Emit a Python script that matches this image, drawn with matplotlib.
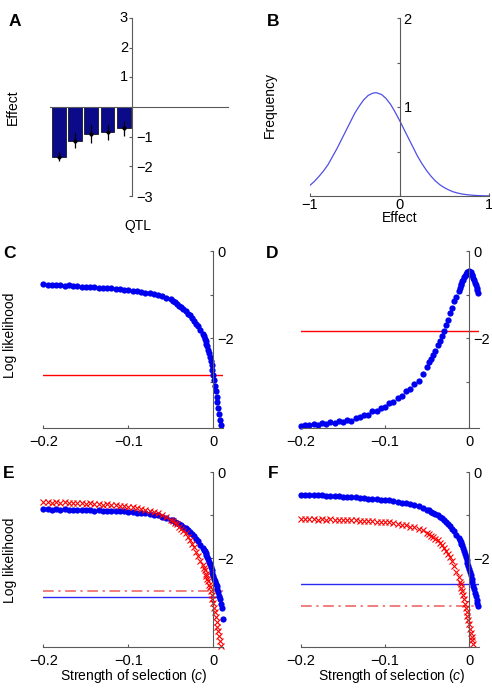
import numpy as np
import matplotlib
matplotlib.use('Agg')
import matplotlib.pyplot as plt

plt.rcParams['font.family'] = ['Liberation Sans', 'DejaVu Sans']
plt.rcParams['mathtext.fontset'] = 'custom'
plt.rcParams['mathtext.it'] = 'Liberation Sans:italic'
plt.rcParams['mathtext.rm'] = 'Liberation Sans'

W, H = 492, 688

# panel A: QTL effects
qtl = [1, 2, 3, 4, 5]
effect = [-1.67, -1.13, -0.92, -0.85, -0.72]
effect_err = [0.15, 0.24, 0.30, 0.25, 0.26]

# panel B: distribution of effects
eff_grid = [-1.0, -0.95, -0.9, -0.85, -0.8, -0.75, -0.7, -0.65, -0.6, -0.55, -0.5,
            -0.45, -0.4, -0.35, -0.3, -0.27, -0.25, -0.2, -0.15, -0.1, -0.05,
            0.0, 0.05, 0.1, 0.15, 0.2, 0.25, 0.3, 0.35, 0.4, 0.45, 0.5,
            0.55, 0.6, 0.65, 0.7, 0.75, 0.8, 0.85, 0.9, 0.95, 1.0]
freq = [0.12, 0.165, 0.22, 0.28, 0.35, 0.44, 0.53, 0.63, 0.73, 0.83, 0.93,
        1.01, 1.08, 1.13, 1.155, 1.16, 1.158, 1.14, 1.095, 1.03, 0.945,
        0.85, 0.75, 0.65, 0.55, 0.45, 0.365, 0.29, 0.225, 0.17, 0.127, 0.094,
        0.068, 0.047, 0.033, 0.022, 0.015, 0.01, 0.006, 0.004, 0.002, 0.001]

# panels C-F: log likelihood vs strength of selection
sel = [-0.200, -0.195, -0.190, -0.185, -0.180, -0.175, -0.170, -0.165, -0.160, -0.155,
       -0.150, -0.145, -0.140, -0.135, -0.130, -0.125, -0.120, -0.115, -0.110, -0.105,
       -0.100, -0.095, -0.090, -0.085, -0.080, -0.075, -0.070, -0.065, -0.060, -0.055,
       -0.050, -0.0475, -0.045, -0.0425, -0.040, -0.0375, -0.035, -0.0325, -0.030, -0.0275,
       -0.025, -0.0225, -0.020, -0.0175, -0.015, -0.0125, -0.011, -0.010, -0.009, -0.008,
       -0.007, -0.006, -0.005, -0.004, -0.003, -0.002, -0.001, 0.000, 0.001, 0.002,
       0.003, 0.004, 0.005, 0.006, 0.007, 0.008, 0.009, 0.010, 0.011]
nan = float('nan')

ll_c = [-0.75, -0.77, -0.765, -0.78, -0.77, -0.785, -0.78, -0.795, -0.795, -0.81,
        -0.81, -0.825, -0.82, -0.835, -0.84, -0.85, -0.85, -0.865, -0.87, -0.885,
        -0.89, -0.90, -0.92, -0.925, -0.95, -0.96, -0.985, -1.00, -1.035, -1.06,
        -1.10, -1.13, -1.17, -1.20, -1.25, -1.28, -1.33, -1.37, -1.43, -1.47,
        -1.54, -1.59, -1.66, -1.72, -1.81, -1.90, -1.95, -2.02, -2.06, -2.13,
        -2.18, -2.26, -2.33, -2.43, -2.51, -2.62, -2.72, -2.85, -2.96, -3.09,
        -3.20, -3.34, -3.46, -3.61, -3.73, -3.87, -3.98, nan, nan]
ll_d = [-4.02, -3.98, -4.00, -3.96, -3.99, -3.94, -3.97, -3.93, -3.95, -3.90,
        -3.92, -3.87, -3.89, -3.82, -3.81, -3.75, -3.75, -3.68, -3.67, -3.59,
        -3.57, -3.49, -3.46, -3.37, -3.33, -3.22, -3.17, -3.04, -2.98, -2.81,
        -2.65, -2.54, -2.48, -2.37, -2.29, -2.16, -2.07, -1.94, -1.83, -1.68,
        -1.57, -1.42, -1.30, -1.15, -1.04, -0.90, -0.85, -0.77, -0.74, -0.67,
        -0.65, -0.59, -0.57, -0.52, -0.51, -0.47, -0.47, -0.44, -0.47, -0.47,
        -0.53, -0.55, -0.62, -0.65, -0.72, -0.76, -0.84, -0.89, -0.95]
ll_e_blue = [-0.86, -0.855, -0.87, -0.86, -0.875, -0.865, -0.88, -0.87, -0.885, -0.875,
             -0.89, -0.88, -0.895, -0.885, -0.90, -0.895, -0.905, -0.90, -0.915, -0.91,
             -0.925, -0.92, -0.94, -0.94, -0.96, -0.965, -0.995, -1.005, -1.045, -1.065,
             -1.115, -1.125, -1.165, -1.175, -1.215, -1.235, -1.285, -1.305, -1.355, -1.385,
             -1.445, -1.485, -1.555, -1.605, -1.685, -1.755, -1.815, -1.835, -1.885, -1.915,
             -1.975, -2.015, -2.085, -2.135, -2.205, -2.265, -2.345, -2.405, -2.475, -2.525,
             -2.595, -2.645, -2.715, -2.785, -2.875, -2.955, -3.055, -3.15, -3.40]
ll_e_red = [-0.70, -0.69, -0.71, -0.70, -0.715, -0.705, -0.72, -0.715, -0.725, -0.72,
            -0.735, -0.725, -0.74, -0.735, -0.755, -0.75, -0.77, -0.77, -0.79, -0.79,
            -0.81, -0.815, -0.84, -0.85, -0.88, -0.895, -0.935, -0.96, -1.005, -1.045,
            -1.115, -1.135, -1.185, -1.215, -1.275, -1.315, -1.375, -1.425, -1.515, -1.575,
            -1.665, -1.735, -1.845, -1.945, -2.075, -2.165, -2.235, -2.285, -2.355, -2.405,
            -2.475, -2.535, -2.615, -2.675, -2.765, -2.845, -2.955, -3.045, -3.155, -3.255,
            -3.375, -3.475, -3.595, -3.695, -3.815, -3.915, -4.03, nan, nan]
ll_f_blue = [-0.53, -0.525, -0.54, -0.535, -0.545, -0.545, -0.555, -0.555, -0.565, -0.565,
             -0.575, -0.575, -0.59, -0.59, -0.60, -0.605, -0.62, -0.62, -0.635, -0.64,
             -0.655, -0.66, -0.675, -0.685, -0.71, -0.725, -0.75, -0.77, -0.80, -0.825,
             -0.87, -0.885, -0.92, -0.945, -0.98, -1.005, -1.04, -1.075, -1.12, -1.155,
             -1.21, -1.255, -1.32, -1.375, -1.45, -1.525, -1.58, -1.615, -1.66, -1.705,
             -1.77, -1.825, -1.90, -1.965, -2.04, -2.105, -2.18, -2.245, -2.32, -2.395,
             -2.48, -2.555, -2.64, -2.715, -2.80, -2.875, -2.96, -3.035, -3.12]
ll_f_red = [-1.09, -1.08, -1.10, -1.09, -1.105, -1.095, -1.11, -1.10, -1.115, -1.105,
            -1.12, -1.115, -1.125, -1.12, -1.135, -1.13, -1.145, -1.14, -1.155, -1.155,
            -1.17, -1.17, -1.19, -1.195, -1.22, -1.23, -1.265, -1.285, -1.325, -1.355,
            -1.415, -1.435, -1.475, -1.505, -1.555, -1.585, -1.645, -1.695, -1.765, -1.825,
            -1.905, -1.975, -2.075, -2.175, -2.325, -2.445, -2.545, -2.605, -2.695, -2.765,
            -2.865, -2.945, -3.055, -3.145, -3.255, -3.335, -3.445, -3.535, -3.645, -3.725,
            -3.825, -3.905, -4.00, nan, nan, nan, nan, nan, nan]

# significance thresholds
thr_c = -2.83
thr_d = -1.83
thr_e_blue, thr_e_red = -2.89, -2.77
thr_f_blue, thr_f_red = -2.60, -3.11

SPINE = '#5a5a5a'
BLUE = '#0000F0'
RED = '#FF0000'

fig = plt.figure(figsize=(W / 100, H / 100), dpi=100)


def box(x0, y0, x1, y1):
    return fig.add_axes([x0 / W, 1 - y1 / H, (x1 - x0) / W, (y1 - y0) / H])


def label(x, y, s, **kw):
    fig.text(x / W, 1 - y / H, s, ha='center', va='center', **kw)


def style(ax, xpos):
    for s in ['top', 'left']:
        ax.spines[s].set_visible(False)
    ax.spines['right'].set_position(('data', xpos))
    for s in ['right', 'bottom']:
        ax.spines[s].set_color(SPINE)
        ax.spines[s].set_linewidth(0.8)
    ax.yaxis.set_ticks_position('right')
    ax.xaxis.set_ticks_position('bottom')
    ax.tick_params(direction='in', length=2.5, width=0.8, color=SPINE,
                   labelsize=10.5, pad=3)
    ax.patch.set_alpha(0)


# A
axA = box(50, 18, 228, 196)
axA.bar(qtl, effect, width=0.85, color='#0B0B8A', edgecolor='k', linewidth=0.5)
axA.errorbar(qtl, effect, yerr=effect_err, fmt='.', color='k', ms=4,
             elinewidth=0.9, capsize=0)
axA.set_xlim(0.47, 11.39)
axA.set_ylim(-3, 3)
style(axA, 5.5)
axA.spines['bottom'].set_position(('data', 0))
axA.set_xticks([])
axA.set_yticks([-3, -2, -1, 0, 1, 2, 3])
axA.set_yticklabels(['\u22123', '\u22122', '\u22121', '', '', '', ''])
# positive tick labels sit on the left of the axis line
for v in [1, 2, 3]:
    axA.text(5.25, v, str(v), ha='right', va='center', fontsize=10.5)

# B
axB = box(310, 18, 489, 196)
axB.plot(eff_grid, freq, color='#4F4FE6', lw=0.9)
axB.set_xlim(-1, 1)
axB.set_ylim(0, 2)
style(axB, 0)
axB.tick_params(axis='x', pad=1.5)
axB.set_yticks([0.5, 1, 1.5, 2])
axB.set_yticklabels(['', '1', '', '2'])
axB.set_xticks([-1, 0, 1])
axB.set_xticklabels(['\u22121', '0', '1'])


def ll_axes(ax):
    ax.set_xlim(-0.2, 0.0115)
    ax.set_ylim(-4.06, 0)
    style(ax, 0)
    ax.tick_params(axis='x', pad=5)
    ax.set_yticks([-3, -2, -1, 0])
    ax.set_yticklabels(['', '\u22122', '', '0'])
    ax.set_xticks([-0.2, -0.1, 0])
    ax.set_xticklabels(['\u22120.2', '\u22120.1', '0'])


def blue_dots(ax, y):
    ax.plot(sel, y, 'o', color=BLUE, ms=4.5, mew=0, clip_on=False)


def red_x(ax, y):
    ax.plot(sel, y, 'x', color=RED, ms=4.2, mew=0.8, clip_on=False)


axC = box(43.3, 251.5, 223, 428)
axC.axhline(thr_c, color=RED, lw=1.0)
blue_dots(axC, ll_c)
ll_axes(axC)

axD = box(301, 251.5, 478.7, 428)
axD.axhline(thr_d, color=RED, lw=1.0)
blue_dots(axD, ll_d)
ll_axes(axD)

axE = box(43.3, 472, 223, 647)
axE.axhline(thr_e_red, color='#EE5a5a', lw=1.1, linestyle=(0, (7, 3, 1.5, 3)))
axE.axhline(thr_e_blue, color='#2a2aF5', lw=1.0)
blue_dots(axE, ll_e_blue)
red_x(axE, ll_e_red)
ll_axes(axE)

axF = box(301, 472, 478.7, 647)
axF.axhline(thr_f_red, color='#EE5a5a', lw=1.1, linestyle=(0, (7, 3, 1.5, 3)))
axF.axhline(thr_f_blue, color='#2a2aF5', lw=1.0)
blue_dots(axF, ll_f_blue)
red_x(axF, ll_f_red)
ll_axes(axF)

# text
for x, y, s in [(15, 21, 'A'), (273, 21, 'B'), (9, 254, 'C'),
                (272, 253, 'D'), (9, 474, 'E'), (273, 474, 'F')]:
    label(x, y, s, fontsize=12.5, fontweight='bold')

label(13, 107, 'Effect', fontsize=10, rotation=90)
label(138, 226, 'QTL', fontsize=10)
label(270, 105, 'Frequency', fontsize=10, rotation=90)
label(400, 218, 'Effect', fontsize=10)
label(10, 335, 'Log likelihood', fontsize=10, rotation=90)
label(10, 560, 'Log likelihood', fontsize=10, rotation=90)
label(134, 676, 'Strength of selection ($c$)', fontsize=10)
label(392, 676, 'Strength of selection ($c$)', fontsize=10)

fig.savefig('out.png', dpi=100)
